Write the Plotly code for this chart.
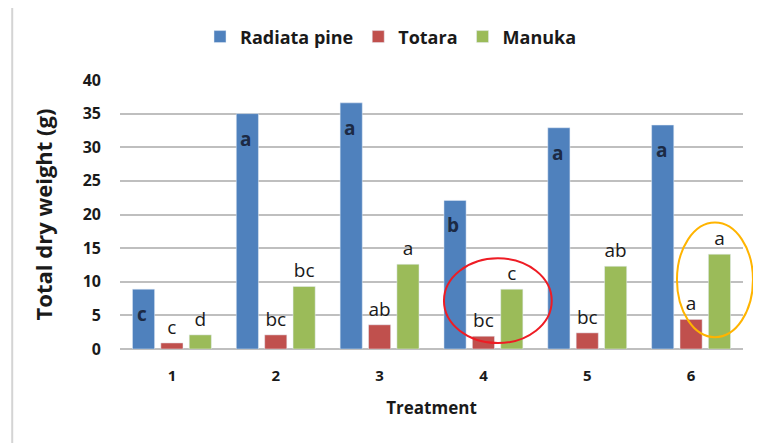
import plotly.graph_objects as go

treatments = ["1", "2", "3", "4", "5", "6"]
radiata = [8.9, 35.0, 36.6, 22.1, 32.9, 33.3]
totara = [0.9, 2.1, 3.6, 1.9, 2.4, 4.4]
manuka = [2.1, 9.3, 12.6, 8.9, 12.3, 14.1]
radiata_letters = ["c", "a", "a", "b", "a", "a"]
totara_letters = ["c", "bc", "ab", "bc", "bc", "a"]
manuka_letters = ["d", "bc", "a", "c", "ab", "a"]
y_ticks = [0, 5, 10, 15, 20, 25, 30, 35, 40]

FONT = "Open Sans"
TXT = "#1a1a1a"
lab_font = dict(family=FONT, size=19, color=TXT)

fig = go.Figure()
fig.add_bar(x=treatments, y=radiata, name="<b>Radiata pine</b>", marker_color="#4f81bd",
            cliponaxis=False)
fig.add_bar(x=treatments, y=totara, name="<b>Totara</b>", marker_color="#c0504d",
            text=totara_letters, textposition="outside", textangle=0,
            textfont=lab_font, cliponaxis=False)
fig.add_bar(x=treatments, y=manuka, name="<b>Manuka</b>", marker_color="#9bbb59",
            text=manuka_letters, textposition="outside", textangle=0,
            textfont=lab_font, cliponaxis=False)

annotations = [
    dict(x=i, y=v, xref="x", yref="y", text="<b>" + l + "</b>", showarrow=False,
         xshift=-30, yshift=-25, font=dict(family=FONT, size=19, color="#1c2a44"))
    for i, (v, l) in enumerate(zip(radiata, radiata_letters))
]

fig.update_layout(
    width=761, height=443,
    margin=dict(l=112, r=26, t=71, b=102),
    paper_bgcolor="white", plot_bgcolor="white",
    barmode="group", bargap=0.18, bargroupgap=0.22,
    font=dict(family=FONT, color=TXT),
    legend=dict(orientation="h", x=0.435, xanchor="center", y=1.156, yanchor="middle",
                font=dict(family=FONT, size=18, color=TXT),
                itemwidth=30, traceorder="normal"),
    xaxis=dict(type="category", showgrid=False, showline=False, ticks="", automargin=False,
               tickfont=dict(family=FONT, size=15, color=TXT, weight="bold"),
               ticklabelstandoff=16,
               title=dict(text="<b>Treatment</b>", font=dict(family=FONT, size=17, color=TXT),
                          standoff=18)),
    yaxis=dict(range=[0, 40], tickvals=y_ticks, showgrid=True, gridcolor="#bfbfbf", gridwidth=1.5,
               zeroline=True, zerolinecolor="#bfbfbf", zerolinewidth=2, automargin=False,
               tickfont=dict(family=FONT, size=16, color=TXT, weight="bold"),
               ticklabelstandoff=18,
               title=dict(text="<b>Total dry weight (g)</b>",
                          font=dict(family=FONT, size=22, color=TXT), standoff=24)),
    annotations=annotations,
    shapes=[
        dict(type="rect", xref="paper", yref="paper", x0=-0.173, x1=1.2, y0=-0.6, y1=1.274,
             line=dict(color="#d4d4d4", width=2), layer="below"),
        dict(type="circle", xref="paper", yref="paper", x0=0.520, x1=0.693, y0=0.022, y1=0.337,
             line=dict(color="#ee1c24", width=2)),
        dict(type="circle", xref="paper", yref="paper", x0=0.894, x1=1.016, y0=0.044, y1=0.470,
             line=dict(color="#ffb400", width=2)),
    ],
)

fig.write_html("out.html")
